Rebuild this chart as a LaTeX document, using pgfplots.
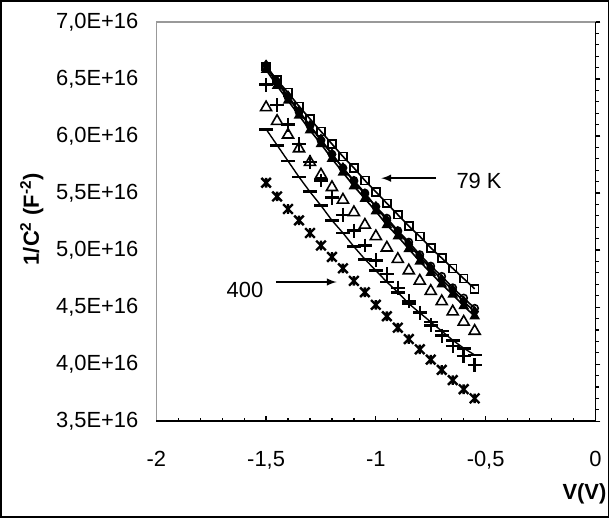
\documentclass[border=0pt]{standalone}
\usepackage{fontspec}
\setmainfont{Liberation Sans}
\usepackage{pgfplots}
\usepackage{pgfplotstable}
\pgfplotsset{compat=1.18}

% Excel-like star marker: an x with a vertical bar
\pgfdeclareplotmark{xstar}{%
  \pgfpathmoveto{\pgfqpoint{-\pgfplotmarksize}{-\pgfplotmarksize}}%
  \pgfpathlineto{\pgfqpoint{\pgfplotmarksize}{\pgfplotmarksize}}%
  \pgfpathmoveto{\pgfqpoint{-\pgfplotmarksize}{\pgfplotmarksize}}%
  \pgfpathlineto{\pgfqpoint{\pgfplotmarksize}{-\pgfplotmarksize}}%
  \pgfpathmoveto{\pgfqpoint{0pt}{-\pgfplotmarksize}}%
  \pgfpathlineto{\pgfqpoint{0pt}{\pgfplotmarksize}}%
  \pgfusepathqstroke}

% 1/C^2 in units of 1E16 F^-2
\pgfplotstableread{
V      A     B     C     D     E     F     G     H
-1.50  6.61  6.60  6.58  6.62  6.25  6.45  6.06  5.59
-1.45  6.49  6.47  6.44  6.48  6.13  6.27  5.92  5.47
-1.40  6.38  6.34  6.31  6.35  6.01  6.10  5.78  5.36
-1.35  6.26  6.21  6.18  6.22  5.89  5.93  5.64  5.26
-1.30  6.15  6.09  6.05  6.09  5.77  5.77  5.51  5.15
-1.25  6.04  5.96  5.93  5.97  5.66  5.61  5.39  5.04
-1.20  5.93  5.84  5.80  5.84  5.55  5.46  5.26  4.94
-1.15  5.82  5.72  5.68  5.72  5.44  5.31  5.15  4.84
-1.10  5.72  5.61  5.56  5.60  5.33  5.17  5.03  4.73
-1.05  5.61  5.50  5.45  5.49  5.22  5.04  4.92  4.63
-1.00  5.51  5.38  5.34  5.38  5.12  4.91  4.82  4.52
-0.95  5.41  5.28  5.22  5.26  5.02  4.79  4.72  4.42
-0.90  5.31  5.17  5.12  5.16  4.92  4.67  4.63  4.32
-0.85  5.21  5.07  5.01  5.05  4.82  4.55  4.53  4.22
-0.80  5.12  4.96  4.90  4.94  4.73  4.45  4.45  4.13
-0.75  5.02  4.86  4.80  4.84  4.64  4.34  4.37  4.04
-0.70  4.93  4.77  4.70  4.74  4.55  4.25  4.29  3.95
-0.65  4.84  4.67  4.61  4.65  4.46  4.16  4.21  3.86
-0.60  4.75  4.58  4.51  4.55  4.37  4.07  4.14  3.78
-0.55  4.66  4.49  4.42  4.46  4.29  3.99  4.08  3.70
}\capdata

\begin{document}
\begin{tikzpicture}[font=\fontsize{11}{13}\selectfont]
\begin{axis}[
  at={(0,0)}, anchor=south west,
  width=220.5pt, height=200.5pt, scale only axis,
  xmin=-2, xmax=0, ymin=3.5, ymax=7,
  xtick={-2,-1.5,-1,-0.5,0},
  xticklabels={-2,{-1,5},-1,{-0,5},0},
  ytick={3.5,4,4.5,5,5.5,6,6.5,7},
  yticklabels={{3,5E+16},{4,0E+16},{4,5E+16},{5,0E+16},{5,5E+16},{6,0E+16},{6,5E+16},{7,0E+16}},
  minor x tick num=4, minor y tick num=4,
  xtick pos=bottom, ytick pos=right, yticklabel pos=left,
  xtick align=inside, ytick align=outside,
  major tick length=2.5pt, minor tick length=1.6pt,
  tick style={black, line width=0.6pt},
  axis line style={draw=gray!80, line width=0.6pt},
  tick label style={font=\fontsize{11}{13}\selectfont},
  yticklabel style={xshift=-3pt},
  xticklabel style={yshift=-11.5pt},
  clip=false,
]
  \addplot[black, line width=0.7pt, mark=-, mark size=3.5pt, mark options={line width=1.4pt}] table[x=V, y=G] {\capdata};
  \addplot[only marks, black, mark=+, mark size=3.5pt, mark options={line width=1.2pt}] table[x=V, y=F] {\capdata};
  \addplot[only marks, black, mark=xstar, mark size=2.4pt, mark options={line width=1.2pt}] table[x=V, y=H] {\capdata};
  \addplot[only marks, black, mark=triangle, mark size=3.2pt, mark options={line width=0.8pt, fill=white}] table[x=V, y=E] {\capdata};
  \addplot[black, line width=0.8pt, mark=triangle*, mark size=2.3pt] table[x=V, y=C] {\capdata};
  \addplot[black, line width=0.8pt, mark=diamond*, mark size=2.3pt] table[x=V, y=D] {\capdata};
  \addplot[black, line width=0.8pt, mark=o, mark size=1.8pt, mark options={fill=white}] table[x=V, y=B] {\capdata};
  \addplot[black, line width=0.8pt, mark=square, mark size=2pt, mark options={fill=white}] table[x=V, y=A] {\capdata};

  \draw[black, line width=0.7pt] (rel axis cs:0,0) -- (rel axis cs:1,0) -- (rel axis cs:1,1);

  \draw[-latex, line width=0.7pt] (axis cs:-0.726,5.63) -- (axis cs:-0.975,5.63);
  \node at (axis cs:-0.53,5.61) {79 K};
  \draw[-latex, line width=0.7pt] (axis cs:-1.456,4.72) -- (axis cs:-1.179,4.72);
  \node at (axis cs:-1.596,4.65) {400};
\end{axis}
\node[font=\fontsize{11}{13}\selectfont\bfseries] at (215pt,-36.5pt) {V(V)};
\node[font=\fontsize{11}{13}\selectfont\bfseries, rotate=90] at (-62.5pt,101.5pt) {1/C\textsuperscript{2} (F\textsuperscript{-2})};
\draw[line width=0.8pt] (-78.1pt,-48.1pt) rectangle (227.1pt,211.1pt);
\end{tikzpicture}
\end{document}
